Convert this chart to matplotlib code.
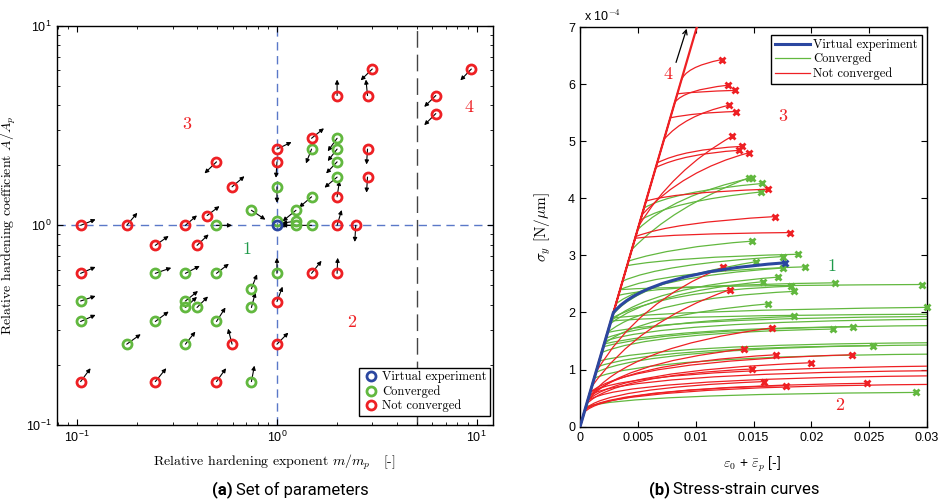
import numpy as np
import matplotlib
matplotlib.use("Agg")
import matplotlib.pyplot as plt
from matplotlib.path import Path
from matplotlib.patches import PathPatch
from matplotlib.ticker import FixedLocator, FuncFormatter, NullLocator

# ---------------- (a) set of parameters ----------------
# relative hardening exponent m/m_p, coefficient A/A_p, status (c=converged, n=not converged)
# arrow direction in decades (log10 units)
m_rel = [3.0, 2.0, 2.84, 6.24, 6.24, 9.4, 1.49, 2.0, 1.49, 2.0, 2.84, 1.0, 1.0, 0.498, 2.0,
         2.0, 2.84, 0.596, 1.0, 2.0, 1.49, 1.245, 0.745, 0.447, 2.0, 2.48, 1.245, 1.245, 1.49,
         1.0, 0.498, 0.348, 0.177, 0.104, 0.246, 0.398, 0.104, 0.246, 0.348, 0.498, 1.0, 1.49,
         2.0, 0.745, 0.104, 0.348, 0.348, 0.398, 0.745, 1.0, 0.104, 0.246, 0.498, 0.177, 0.348,
         0.596, 1.0, 0.104, 0.246, 0.498, 0.745]
A_rel = [6.07, 4.47, 4.47, 4.47, 3.63, 6.07, 2.73, 2.73, 2.41, 2.41, 2.41, 2.41, 2.08, 2.08, 2.08,
         1.745, 1.745, 1.56, 1.56, 1.39, 1.39, 1.19, 1.19, 1.12, 1.0, 1.0, 1.0, 1.05, 1.0,
         1.05, 1.0, 1.0, 1.0, 1.0, 0.794, 0.794, 0.575, 0.575, 0.575, 0.575, 0.575, 0.575,
         0.575, 0.482, 0.418, 0.418, 0.388, 0.388, 0.388, 0.415, 0.33, 0.33, 0.33, 0.254, 0.254,
         0.254, 0.254, 0.165, 0.165, 0.165, 0.165]
status = ["n"] * 7 + ["c"] * 3 + ["n"] * 4 + ["c"] * 2 + ["n"] * 2 + ["c"] + ["n"] + \
         ["c"] * 3 + ["n"] * 3 + ["c"] * 5 + ["n"] * 6 + ["c"] * 4 + ["n"] * 2 + ["c"] * 6 + \
         ["n"] + ["c"] * 5 + ["n"] * 5 + ["c"]
arrow_dx = [-0.058, 0.0, -0.008, -0.058, -0.058, -0.055, 0.062, -0.047, -0.028, -0.047, -0.005,
            0.073, -0.005, -0.06, -0.055, -0.063, -0.005, 0.062, 0.0, 0.012, -0.062, -0.067,
            0.07, 0.062, 0.023, -0.005, -0.07, -0.07, -0.16, 0.0, 0.078, 0.058, 0.053, 0.075,
            0.067, 0.058, 0.075, 0.08, 0.072, 0.062, 0.0, 0.05, 0.003, 0.028, 0.075, 0.063,
            0.058, 0.055, 0.02, 0.028, 0.075, 0.067, 0.045, 0.07, 0.05, -0.02, 0.057, 0.05,
            0.055, 0.048, 0.015]
arrow_dy = [-0.057, 0.08, 0.08, -0.057, -0.058, -0.057, 0.05, -0.065, -0.072, -0.06, -0.077,
            0.035, -0.08, -0.058, -0.058, -0.053, -0.078, 0.053, -0.08, 0.08, -0.053, -0.055,
            -0.047, 0.047, 0.077, -0.083, 0.0, -0.01, 0.0, 0.0, 0.0, 0.05, 0.063, 0.03,
            0.047, 0.055, 0.032, 0.028, 0.037, 0.048, 0.078, 0.063, 0.078, 0.072, 0.025, 0.05,
            0.053, 0.055, 0.075, 0.075, 0.033, 0.05, 0.07, 0.05, 0.063, 0.078, 0.058, 0.067,
            0.067, 0.067, 0.08]
m_virtual, A_virtual = 1.0, 1.0
m_limit = 5.0

# ---------------- (b) stress-strain curves ----------------
# stresses in 1e-4 N/um; elastic line top point
el_top_eps, el_top_sig = 0.0101, 7.0
# each curve: yield stress, bezier control point, end point, marked end
g_sy = [3.10, 3.45, 3.83, 3.62, 2.90, 2.82, 2.55, 2.40, 2.15, 1.95, 2.40, 2.30, 1.80, 1.85, 1.90,
        1.65, 1.45, 1.90, 1.85, 1.55, 1.65, 1.50, 1.30, 1.45, 1.40, 1.05, 1.15, 0.95, 0.85, 0.35]
g_cx = [0.008, 0.008, 0.008, 0.008, 0.008, 0.008, 0.007, 0.007, 0.006, 0.005, 0.008, 0.007, 0.006,
        0.006, 0.007, 0.006, 0.005, 0.008, 0.008, 0.006, 0.008, 0.007, 0.006, 0.008, 0.008, 0.006,
        0.007, 0.006, 0.006, 0.004]
g_cy = [3.85, 4.05, 4.12, 3.95, 3.15, 2.97, 2.85, 2.72, 2.62, 2.55, 2.47, 2.48, 2.35, 2.45, 2.38,
        2.25, 1.95, 2.04, 1.95, 1.85, 1.90, 1.84, 1.65, 1.72, 1.74, 1.38, 1.44, 1.40, 1.24, 0.57]
g_ex = [0.01461, 0.0149, 0.01576, 0.01562, 0.0149, 0.01888, 0.01752, 0.01945, 0.01758, 0.01522,
        0.02954, 0.02205, 0.01585, 0.01715, 0.01824, 0.01853, 0.01623, 0.0300, 0.030, 0.01853,
        0.030, 0.030, 0.0219, 0.02358, 0.030, 0.0253, 0.030, 0.030, 0.030, 0.02905]
g_ey = [4.36, 4.36, 4.26, 4.11, 3.25, 3.02, 2.98, 2.80, 2.78, 2.89, 2.49, 2.52, 2.54, 2.62, 2.46,
        2.37, 2.15, 2.09, 1.97, 1.93, 1.93, 1.88, 1.71, 1.75, 1.77, 1.42, 1.47, 1.43, 1.27, 0.60]
g_mark = [1, 1, 1, 1, 1, 1, 1, 1, 1, 1, 1, 1, 1, 1, 1, 1, 1, 1, 0, 1, 0, 0, 1, 1, 0, 1, 0, 0, 0, 1]

r_sy = [6.04, 5.68, 5.83, 5.41, 5.03, 3.51, 4.62, 4.54, 3.71, 3.95, 3.33, 3.30, 0.95, 0.70, 0.50,
        0.45, 0.50, 0.60, 0.45, 0.40, 0.30, 0.25, 0.30, 0.60, 0.55, 0.45, 0.30]
r_cx = [0.009, 0.009, 0.010, 0.010, 0.009, 0.008, 0.009, 0.009, 0.009, 0.008, 0.008, 0.008, 0.005,
        0.005, 0.004, 0.003, 0.003, 0.004, 0.003, 0.003, 0.002, 0.002, 0.003, 0.004, 0.004, 0.003,
        0.003]
r_cy = [6.30, 5.90, 5.87, 5.50, 5.45, 4.50, 4.86, 4.78, 4.50, 4.10, 3.58, 3.38, 2.20, 1.85, 1.40,
        1.10, 1.10, 1.15, 0.98, 0.90, 0.68, 0.63, 0.70, 1.00, 0.93, 0.84, 0.70]
r_ex = [0.01225, 0.01277, 0.0134, 0.01349, 0.01288, 0.01317, 0.01403, 0.01375, 0.01464, 0.01629,
        0.01686, 0.01816, 0.01234, 0.01297, 0.01657, 0.01418, 0.01695, 0.02354, 0.01994, 0.01484,
        0.01591, 0.01778, 0.02484, 0.030, 0.030, 0.030, 0.030]
r_ey = [6.43, 5.98, 5.89, 5.52, 5.63, 5.09, 4.91, 4.84, 4.80, 4.16, 3.68, 3.40, 2.79, 2.40, 1.73,
        1.36, 1.26, 1.26, 1.12, 1.01, 0.79, 0.72, 0.76, 1.06, 0.98, 0.89, 0.74]
r_mark = [1] * 23 + [0] * 4

b_sy, b_cx, b_cy, b_ex, b_ey = 2.0, 0.0058, 2.70, 0.0177, 2.87

eps_ticks = [0, 0.005, 0.01, 0.015, 0.02, 0.025, 0.03]
sig_ticks = [0, 1, 2, 3, 4, 5, 6, 7]

RED = '#ee2024'
GREEN = '#62b83f'
BLUE = '#2b47a0'
SERIF = ['cmr10', 'DejaVu Serif']

plt.rcParams['font.family'] = ['Liberation Sans', 'DejaVu Sans']
plt.rcParams['mathtext.fontset'] = 'cm'
plt.rcParams['axes.formatter.use_mathtext'] = True

fig = plt.figure(figsize=(9.47, 5.04), dpi=100)
ax1 = fig.add_axes([0.0597, 0.1567, 0.4604, 0.7923])
ax2 = fig.add_axes([0.6125, 0.1534, 0.3664, 0.7930])

# ----- panel a -----
ax1.set_xscale('log')
ax1.set_yscale('log')
ax1.axvline(1.0, color='#5a78c8', ls=(0, (6, 4)), lw=1.0, zorder=1)
ax1.axhline(1.0, color='#5a78c8', ls=(0, (6, 4)), lw=1.0, zorder=1)
ax1.axvline(m_limit, color='#444444', ls=(0, (12, 5)), lw=1.0, zorder=1)

m_arr = np.array(m_rel)
A_arr = np.array(A_rel)
st = np.array(status)
for i in range(len(m_rel)):
    if arrow_dx[i] == 0 and arrow_dy[i] == 0:
        continue
    end = (m_rel[i] * 10 ** arrow_dx[i], A_rel[i] * 10 ** arrow_dy[i])
    ax1.annotate('', xy=end, xytext=(m_rel[i], A_rel[i]),
                 arrowprops=dict(arrowstyle='-|>', color='k', lw=0.8,
                                 mutation_scale=6, shrinkA=0, shrinkB=0), zorder=3)

ax1.plot([m_virtual], [A_virtual], 'o', mfc='none', mec=BLUE, ms=6.5, mew=2,
         ls='none', label='Virtual experiment', zorder=5)
ax1.plot(m_arr[st == 'c'], A_arr[st == 'c'], 'o', mfc='none', mec=GREEN, ms=6.5, mew=2,
         ls='none', label='Converged', zorder=4)
ax1.plot(m_arr[st == 'n'], A_arr[st == 'n'], 'o', mfc='none', mec=RED, ms=6.5, mew=2,
         ls='none', label='Not converged', zorder=4)

ax1.set_xlim(0.0788, 12.0)
ax1.set_ylim(0.1, 10)
ax1.tick_params(which='both', direction='in', top=True, right=True, labelsize=9)
ax1.tick_params(which='major', length=4)
ax1.tick_params(which='minor', length=2)
ax1.set_xlabel('Relative hardening exponent $m/m_p$   [-]', family=SERIF, fontsize=10)
ax1.set_ylabel('Relative hardening coefficient $A/A_p$', family=SERIF, fontsize=10)
ax1.xaxis.set_label_coords(0.5, -0.07)
ax1.yaxis.set_label_coords(-0.088, 0.5)

ax1.text(0.355, 3.2, '3', color=RED, family=SERIF, fontsize=13, ha='center', va='center')
ax1.text(9.15, 3.88, '4', color=RED, family=SERIF, fontsize=13, ha='center', va='center')
ax1.text(0.708, 0.759, '1', color='#1f9a4a', family=SERIF, fontsize=13, ha='center', va='center')
ax1.text(2.37, 0.326, '2', color=RED, family=SERIF, fontsize=13, ha='center', va='center')

leg1 = ax1.legend(loc='lower right', bbox_to_anchor=(0.995, 0.022), borderaxespad=0,
                  prop={'family': SERIF, 'size': 9}, fancybox=False, edgecolor='k',
                  framealpha=1, handletextpad=0.3, borderpad=0.3, labelspacing=0.15,
                  handlelength=1.2)
leg1.get_frame().set_linewidth(1.0)

# ----- panel b -----
def draw_curve(ax, sy, cx, cy, ex, ey, color, lw, zorder):
    verts = [(0, 0), (sy * el_top_eps / el_top_sig, sy), (cx, cy), (ex, ey)]
    codes = [Path.MOVETO, Path.LINETO, Path.CURVE3, Path.CURVE3]
    ax.add_patch(PathPatch(Path(verts, codes), fill=False, edgecolor=color, lw=lw,
                           zorder=zorder, capstyle='round', joinstyle='round'))

for i in range(len(g_sy)):
    draw_curve(ax2, g_sy[i], g_cx[i], g_cy[i], g_ex[i], g_ey[i], GREEN, 0.9, 2)
    if g_mark[i]:
        ax2.plot(g_ex[i], g_ey[i], 'x', color=GREEN, ms=4.5, mew=2, zorder=3, clip_on=False)
for i in range(len(r_sy)):
    draw_curve(ax2, r_sy[i], r_cx[i], r_cy[i], r_ex[i], r_ey[i], RED, 0.9, 4)
    if r_mark[i]:
        ax2.plot(r_ex[i], r_ey[i], 'x', color=RED, ms=4.5, mew=2, zorder=5, clip_on=False)
ax2.plot([0, el_top_eps], [0, el_top_sig], color=RED, lw=1.6, zorder=4)
draw_curve(ax2, b_sy, b_cx, b_cy, b_ex, b_ey, BLUE, 2.2, 6)
ax2.plot(b_ex, b_ey, 'x', color=BLUE, ms=4.5, mew=2, zorder=7)

ax2.annotate('', xy=(0.00922, 6.97), xytext=(0.0083, 6.38),
             arrowprops=dict(arrowstyle='->', color='k', lw=0.9, mutation_scale=8,
                             shrinkA=0, shrinkB=0))
ax2.text(0.00764, 6.17, '4', color=RED, family=SERIF, fontsize=13, ha='center', va='center')
ax2.text(0.0175, 5.44, '3', color=RED, family=SERIF, fontsize=13, ha='center', va='center')
ax2.text(0.02176, 2.81, '1', color='#1f9a4a', family=SERIF, fontsize=13, ha='center', va='center')
ax2.text(0.02248, 0.38, '2', color=RED, family=SERIF, fontsize=13, ha='center', va='center')

ax2.plot([], [], color=BLUE, lw=2.2, label='Virtual experiment')
ax2.plot([], [], color=GREEN, lw=0.9, label='Converged')
ax2.plot([], [], color=RED, lw=0.9, label='Not converged')
leg2 = ax2.legend(loc='upper right', bbox_to_anchor=(0.985, 0.98), borderaxespad=0,
                  prop={'family': SERIF, 'size': 9}, fancybox=False, edgecolor='k',
                  framealpha=1, handletextpad=0.3, borderpad=0.3, labelspacing=0.15,
                  handlelength=2.8)
leg2.get_frame().set_linewidth(1.0)

ax2.set_xlim(0, 0.03)
ax2.set_ylim(0, 7)
ax2.xaxis.set_major_locator(FixedLocator(eps_ticks))
ax2.xaxis.set_major_formatter(FuncFormatter(lambda v, p: '%g' % v))
ax2.yaxis.set_major_locator(FixedLocator(sig_ticks))
ax2.yaxis.set_major_formatter(FuncFormatter(lambda v, p: '%g' % v))
ax2.xaxis.set_minor_locator(NullLocator())
ax2.yaxis.set_minor_locator(NullLocator())
ax2.tick_params(direction='in', top=True, right=True, labelsize=9, length=4)
ax2.text(0.01, 1.008, r'x 10$^{-4}$', transform=ax2.transAxes, fontsize=9,
         ha='left', va='bottom')
ax2.set_xlabel(r'$\varepsilon_0$ + $\bar{\varepsilon}_p$ [-]', fontsize=10)
ax2.set_ylabel(r'$\sigma_y$ [N/$\mu$m]', family=SERIF, fontsize=11)
ax2.xaxis.set_label_coords(0.496, -0.071)
ax2.yaxis.set_label_coords(-0.078, 0.5)

for a in (ax1, ax2):
    for s in a.spines.values():
        s.set_linewidth(1.0)

# captions
fig.text(233 / 947, 0.028, '(a)', fontsize=12, fontweight='bold', ha='right', va='center',
         family='Roboto')
fig.text(236 / 947, 0.028, 'Set of parameters', fontsize=12, ha='left', va='center',
         family='Roboto')
fig.text(670 / 947, 0.028, '(b)', fontsize=12, fontweight='bold', ha='right', va='center',
         family='Roboto')
fig.text(673 / 947, 0.028, 'Stress-strain curves', fontsize=12, ha='left', va='center',
         family='Roboto')

fig.savefig('out.png', dpi=100)
